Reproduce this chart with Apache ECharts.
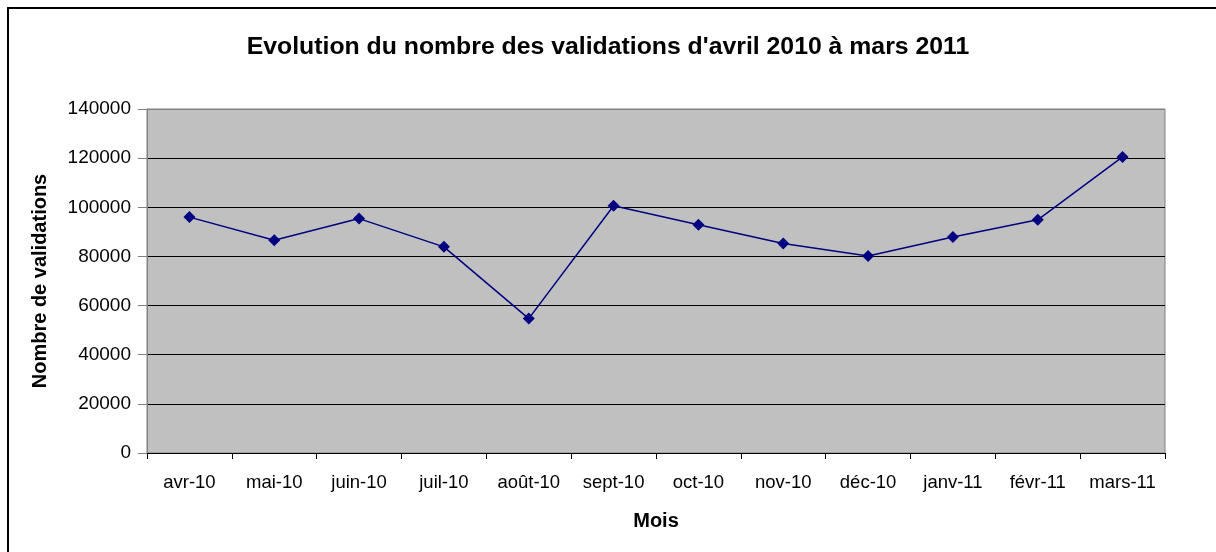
<!DOCTYPE html>
<html>
<head>
<meta charset="utf-8">
<script src="https://cdn.jsdelivr.net/npm/echarts@6/dist/echarts.min.js"></script>
<style>
  html, body { margin: 0; padding: 0; background: #fff; }
  #chart { width: 1216px; height: 552px; }
</style>
</head>
<body>
<div id="chart"></div>
<script>
// data
const months = ['avr-10', 'mai-10', 'juin-10', 'juil-10', 'août-10', 'sept-10',
                'oct-10', 'nov-10', 'déc-10', 'janv-11', 'févr-11', 'mars-11'];
const validations = [96000, 86600, 95400, 83900, 54700, 100600,
                     92900, 85300, 80200, 87900, 94900, 120500];
const yTicks = [0, 20000, 40000, 60000, 80000, 100000, 120000, 140000];

const chart = echarts.init(document.getElementById('chart'));
const font = 'Liberation Sans, Arial, sans-serif';

const option = {
    animation: false,
    backgroundColor: '#fff',
    textStyle: { fontFamily: font, color: '#000' },
    graphic: [{
        type: 'rect',
        shape: { x: 8, y: 8, width: 1400, height: 800 },
        style: { fill: 'none', stroke: '#000', lineWidth: 2 },
        silent: true
    }],
    title: {
        text: "Evolution du nombre des validations d'avril 2010 à mars 2011",
        left: 'center',
        top: 30,
        textStyle: { fontFamily: font, fontSize: 24.8, fontWeight: 'bold', color: '#000' }
    },
    grid: {
        left: 147,
        right: 51,
        top: 109,
        bottom: 99,
        show: true,
        backgroundColor: '#c0c0c0',
        borderColor: '#808080',
        borderWidth: 1
    },
    xAxis: {
        type: 'category',
        data: months,
        boundaryGap: true,
        name: 'Mois',
        nameLocation: 'middle',
        nameGap: 58,
        nameTextStyle: { fontFamily: font, fontSize: 20, fontWeight: 'bold', color: '#000' },
        axisLine: { lineStyle: { color: '#000', width: 1 } },
        axisTick: { show: true, length: 6, alignWithLabel: false, lineStyle: { color: '#000' } },
        axisLabel: { fontFamily: font, fontSize: 18.5, color: '#000', margin: 20, interval: 0 },
        splitLine: { show: false }
    },
    yAxis: {
        type: 'value',
        min: yTicks[0],
        max: yTicks[yTicks.length - 1],
        interval: 20000,
        name: 'Nombre de validations',
        nameLocation: 'middle',
        nameGap: 97,
        nameTextStyle: { fontFamily: font, fontSize: 20, fontWeight: 'bold', color: '#000' },
        axisLine: { show: true, lineStyle: { color: '#808080', width: 1 } },
        axisTick: { show: true, length: 9, lineStyle: { color: '#808080' } },
        axisLabel: {
            fontFamily: font, fontSize: 19, color: '#000', margin: 16,
            formatter: v => String(v)
        },
        splitLine: {
            show: true,
            lineStyle: {
                color: ['#000', '#000', '#000', '#000', '#000', '#000', '#000', '#808080'],
                width: 1
            }
        }
    },
    series: [{
        type: 'line',
        data: validations,
        symbol: 'diamond',
        symbolSize: 12,
        itemStyle: { color: '#000080' },
        lineStyle: { color: '#000080', width: 1.5 }
    }]
};

option && chart.setOption(option);
</script>
</body>
</html>
